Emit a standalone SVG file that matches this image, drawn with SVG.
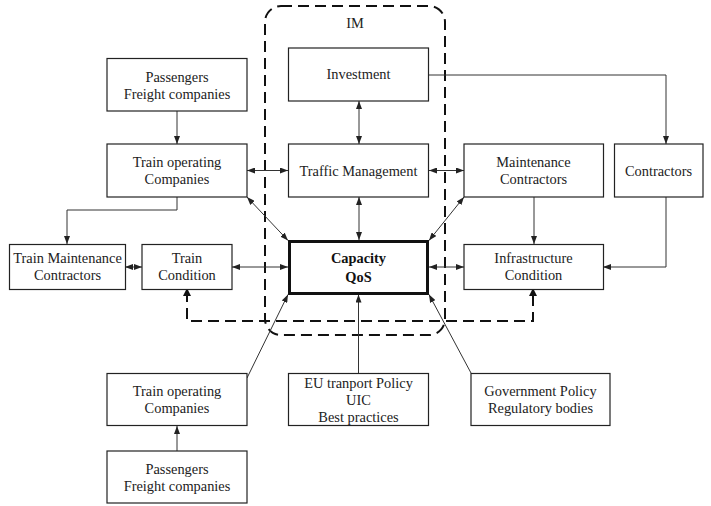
<svg xmlns="http://www.w3.org/2000/svg" width="711" height="506" viewBox="0 0 711 506">
<style>
.box{fill:#fff;stroke:#222;stroke-width:1.2}
.thick{fill:#fff;stroke:#111;stroke-width:3}
.t{font-family:"Liberation Serif","Times New Roman",serif;font-size:14.4px;fill:#222;text-anchor:middle}
.b{font-weight:bold;fill:#111}
.c{fill:none;stroke:#333;stroke-width:1}
.d{fill:none;stroke:#111;stroke-width:2;stroke-dasharray:11,6}
</style>
<defs>
<marker id="a" markerUnits="userSpaceOnUse" markerWidth="8" markerHeight="6" refX="8" refY="3" orient="auto-start-reverse">
<path d="M0,0 L8,3 L0,6 z" fill="#222"/>
</marker>
</defs>
<rect x="0" y="0" width="711" height="506" fill="#fff"/>
<g id="im-boundary">
<rect x="265" y="6" width="180" height="329" rx="16" class="d"/>
<text class="t" x="355" y="28">IM</text>
</g>
<g id="connectors">
<line class="c" x1="177" y1="111" x2="177" y2="144" marker-end="url(#a)"/>
<polyline class="c" points="177,197 177,210 67,210 67,244" marker-end="url(#a)"/>
<line class="c" x1="247" y1="170.5" x2="288" y2="170.5" marker-start="url(#a)" marker-end="url(#a)"/>
<line class="c" x1="429" y1="170.5" x2="464" y2="170.5" marker-start="url(#a)" marker-end="url(#a)"/>
<line class="c" x1="359" y1="101" x2="359" y2="144" marker-start="url(#a)" marker-end="url(#a)"/>
<line class="c" x1="359" y1="197" x2="359" y2="240" marker-start="url(#a)" marker-end="url(#a)"/>
<polyline class="c" points="429,75 666,75 666,144" marker-end="url(#a)"/>
<line class="c" x1="247" y1="197" x2="288" y2="240.5" marker-start="url(#a)" marker-end="url(#a)"/>
<line class="c" x1="464" y1="197" x2="429" y2="240.5" marker-start="url(#a)" marker-end="url(#a)"/>
<line class="c" x1="125" y1="267" x2="142" y2="267" marker-start="url(#a)" marker-end="url(#a)"/>
<line class="c" x1="232" y1="267" x2="288" y2="267" marker-start="url(#a)" marker-end="url(#a)"/>
<line class="c" x1="429" y1="267" x2="464" y2="267" marker-start="url(#a)" marker-end="url(#a)"/>
<line class="c" x1="534" y1="197" x2="534" y2="244" marker-end="url(#a)"/>
<polyline class="c" points="666,197 666,267 603,267" marker-end="url(#a)"/>
<line class="c" x1="247" y1="378" x2="288" y2="294.5" marker-end="url(#a)"/>
<line class="c" x1="358.5" y1="373" x2="358.5" y2="294.5" marker-end="url(#a)"/>
<line class="c" x1="471" y1="373" x2="429" y2="294.5" marker-end="url(#a)"/>
<line class="c" x1="177" y1="451" x2="177" y2="426" marker-end="url(#a)"/>
<polyline class="d" points="187,291 187,321 533,321 533,291"/>
<path d="M183,296 L187,288 L191,296 z" fill="#111"/>
<path d="M529,296 L533,288 L537,296 z" fill="#111"/>
</g>
<g id="investment">
<rect class="box" x="288.5" y="48" width="140" height="53"/>
<text class="t" x="358.5" y="79">Investment</text>
</g>
<g id="passengers-top">
<rect class="box" x="107" y="58.5" width="140" height="52.5"/>
<text class="t" x="177" y="81.5">Passengers</text>
<text class="t" x="177" y="98.5">Freight companies</text>
</g>
<g id="train-operating-top">
<rect class="box" x="107" y="144" width="140" height="53"/>
<text class="t" x="177" y="167">Train operating</text>
<text class="t" x="177" y="184">Companies</text>
</g>
<g id="traffic-management">
<rect class="box" x="288.5" y="144" width="140" height="53"/>
<text class="t" x="358.5" y="175.5">Traffic Management</text>
</g>
<g id="maintenance-contractors">
<rect class="box" x="464" y="144" width="139.5" height="53"/>
<text class="t" x="533.5" y="167">Maintenance</text>
<text class="t" x="533.5" y="184">Contractors</text>
</g>
<g id="contractors">
<rect class="box" x="614.5" y="144" width="88.5" height="53"/>
<text class="t" x="658.5" y="175.5">Contractors</text>
</g>
<g id="train-maintenance-contractors">
<rect class="box" x="9.5" y="244.5" width="116" height="45"/>
<text class="t" x="67.5" y="263">Train Maintenance</text>
<text class="t" x="67.5" y="280">Contractors</text>
</g>
<g id="train-condition">
<rect class="box" x="142" y="244.5" width="90" height="45"/>
<text class="t" x="187" y="263">Train</text>
<text class="t" x="187" y="280">Condition</text>
</g>
<g id="capacity-qos">
<rect class="thick" x="289.5" y="241.5" width="138" height="52"/>
<text class="t b" x="358.5" y="263">Capacity</text>
<text class="t b" x="358.5" y="281.5">QoS</text>
</g>
<g id="infrastructure-condition">
<rect class="box" x="464" y="244.5" width="139.5" height="45"/>
<text class="t" x="533.5" y="263">Infrastructure</text>
<text class="t" x="533.5" y="280">Condition</text>
</g>
<g id="train-operating-bottom">
<rect class="box" x="107" y="373.5" width="140" height="52"/>
<text class="t" x="177" y="396">Train operating</text>
<text class="t" x="177" y="413">Companies</text>
</g>
<g id="eu-policy">
<rect class="box" x="288.5" y="373.5" width="140" height="52"/>
<text class="t" x="358.5" y="387.5">EU tranport Policy</text>
<text class="t" x="358.5" y="405">UIC</text>
<text class="t" x="358.5" y="422">Best practices</text>
</g>
<g id="government-policy">
<rect class="box" x="471" y="373.5" width="139" height="52"/>
<text class="t" x="540.5" y="396">Government Policy</text>
<text class="t" x="540.5" y="413">Regulatory bodies</text>
</g>
<g id="passengers-bottom">
<rect class="box" x="107" y="451" width="140" height="52"/>
<text class="t" x="177" y="474">Passengers</text>
<text class="t" x="177" y="491">Freight companies</text>
</g>
</svg>
